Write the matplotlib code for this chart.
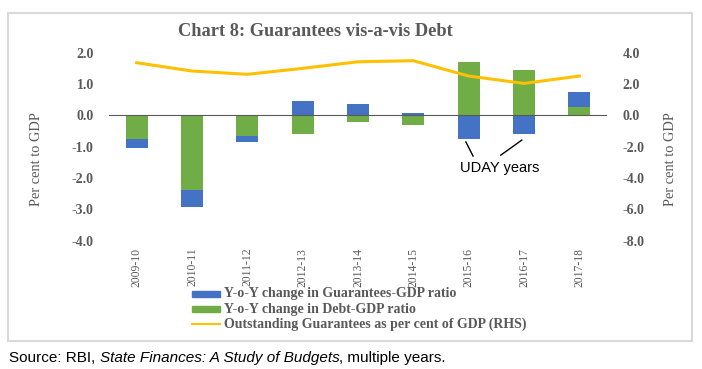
import matplotlib.pyplot as plt
from matplotlib.patches import Rectangle
import numpy as np

years = ["2009-10", "2010-11", "2011-12", "2012-13", "2013-14",
         "2014-15", "2015-16", "2016-17", "2017-18"]
guar_change = [-0.29, -0.54, -0.18, 0.46, 0.37, 0.07, -0.77, -0.59, 0.47]
debt_change = [-0.76, -2.38, -0.66, -0.59, -0.21, -0.30, 1.70, 1.44, 0.28]
outstanding = [3.36, 2.83, 2.62, 3.00, 3.42, 3.49, 2.51, 2.04, 2.51]

BLUE = "#4472C4"
GREEN = "#70AD47"
GOLD = "#FFC000"
GREY = "#595959"
SERIF = "Liberation Serif"

W, H = 702, 369
fig = plt.figure(figsize=(W / 100, H / 100), dpi=100)


def fx(px):
    return px / W


def fy(py):
    return 1 - py / H


ax = fig.add_axes([fx(109), fy(240.7), fx(607) - fx(109), fy(52.7) - fy(240.7)])
ax2 = ax.twinx()

x = np.arange(len(years))
g = np.array(guar_change)
d = np.array(debt_change)
# Excel-style stacking: debt first, guarantees stacked on the same side
g_base = np.where(np.sign(g) == np.sign(d), d, 0.0)
ax.bar(x, d, width=0.4, color=GREEN, zorder=2)
ax.bar(x, g, width=0.4, bottom=g_base, color=BLUE, zorder=2)
ax.axhline(0, color=GREY, lw=0.8, zorder=3)

ax2.plot(x, outstanding, color=GOLD, lw=2.2, zorder=4)

ax.set_xlim(-0.5, len(years) - 0.5)
ax.set_ylim(-4, 2)
ax2.set_ylim(-8, 4)
ax.set_yticks(np.arange(-4, 2.1, 1))
ax.set_yticklabels([f"{v:.1f}" for v in np.arange(-4, 2.1, 1)])
ax2.set_yticks(np.arange(-8, 4.1, 2))
ax2.set_yticklabels([f"{v:.1f}" for v in np.arange(-8, 4.1, 2)])

ax.set_xticks(x)
ax.set_xticklabels(years, rotation=90, fontfamily=SERIF, fontsize=8.4, color=GREY)
for a in (ax, ax2):
    for s in a.spines.values():
        s.set_visible(False)
    a.tick_params(length=0)
ax.tick_params(axis="x", pad=5)
ax.tick_params(axis="y", pad=11)
ax2.tick_params(axis="y", pad=11)
for lab in ax.get_yticklabels() + ax2.get_yticklabels():
    lab.set_fontfamily(SERIF)
    lab.set_fontweight("bold")
    lab.set_fontsize(10)
    lab.set_color(GREY)

fig.text(fx(37), fy(159), "Per cent to GDP", rotation=90, ha="center", va="center",
         fontfamily=SERIF, fontsize=10.4, color=GREY)
fig.text(fx(670), fy(159), "Per cent to GDP", rotation=90, ha="center", va="center",
         fontfamily=SERIF, fontsize=10.4, color=GREY)

fig.text(fx(315), fy(32), "Chart 8: Guarantees vis-a-vis Debt", ha="center", va="center",
         fontfamily=SERIF, fontweight="bold", fontsize=13.2, color=GREY)

# UDAY annotation
ax.text(5.84, -1.69, "UDAY years", fontfamily="Liberation Sans", fontsize=10.5,
        color="black", va="center", ha="left")
ax.plot([5.95, 6.08], [-0.85, -1.30], color="black", lw=1, zorder=5)
ax.plot([6.96, 6.58], [-0.79, -1.27], color="black", lw=1, zorder=5)

# legend
leg_items = [
    ("patch", BLUE, "Y-o-Y change in Guarantees-GDP ratio"),
    ("patch", GREEN, "Y-o-Y change in Debt-GDP ratio"),
    ("line", GOLD, "Outstanding Guarantees as per cent of GDP (RHS)"),
]
for i, (kind, col, lab) in enumerate(leg_items):
    yc = 294 + i * 15
    if kind == "patch":
        fig.patches.append(Rectangle((fx(192), fy(yc + 3)), fx(220) - fx(192), fy(yc - 3) - fy(yc + 3),
                                     transform=fig.transFigure, color=col))
    else:
        fig.lines.append(plt.Line2D([fx(192), fx(220)], [fy(yc), fy(yc)], transform=fig.transFigure,
                                    color=col, lw=1.5))
    fig.text(fx(224), fy(yc), lab, ha="left", va="center", fontfamily=SERIF,
             fontweight="bold", fontsize=10, color=GREY)

# chart border
fig.patches.append(Rectangle((fx(8), fy(341)), fx(692) - fx(8), fy(13) - fy(341),
                             transform=fig.transFigure, fill=False, edgecolor="#D9D9D9", lw=1.5))

# source line with italic segment
parts = [("Source: RBI, ", "normal"), ("State Finances: A Study of Budgets", "italic"),
         (", multiple years.", "normal")]
fig.canvas.draw()
renderer = fig.canvas.get_renderer()
xpos = fx(9)
for txt, style in parts:
    t = fig.text(xpos, fy(358), txt, ha="left", va="center", fontfamily="Liberation Sans",
                 fontstyle=style, fontsize=11, color="black")
    bb = t.get_window_extent(renderer=renderer)
    xpos += bb.width / W

fig.savefig("out.png", dpi=100)
